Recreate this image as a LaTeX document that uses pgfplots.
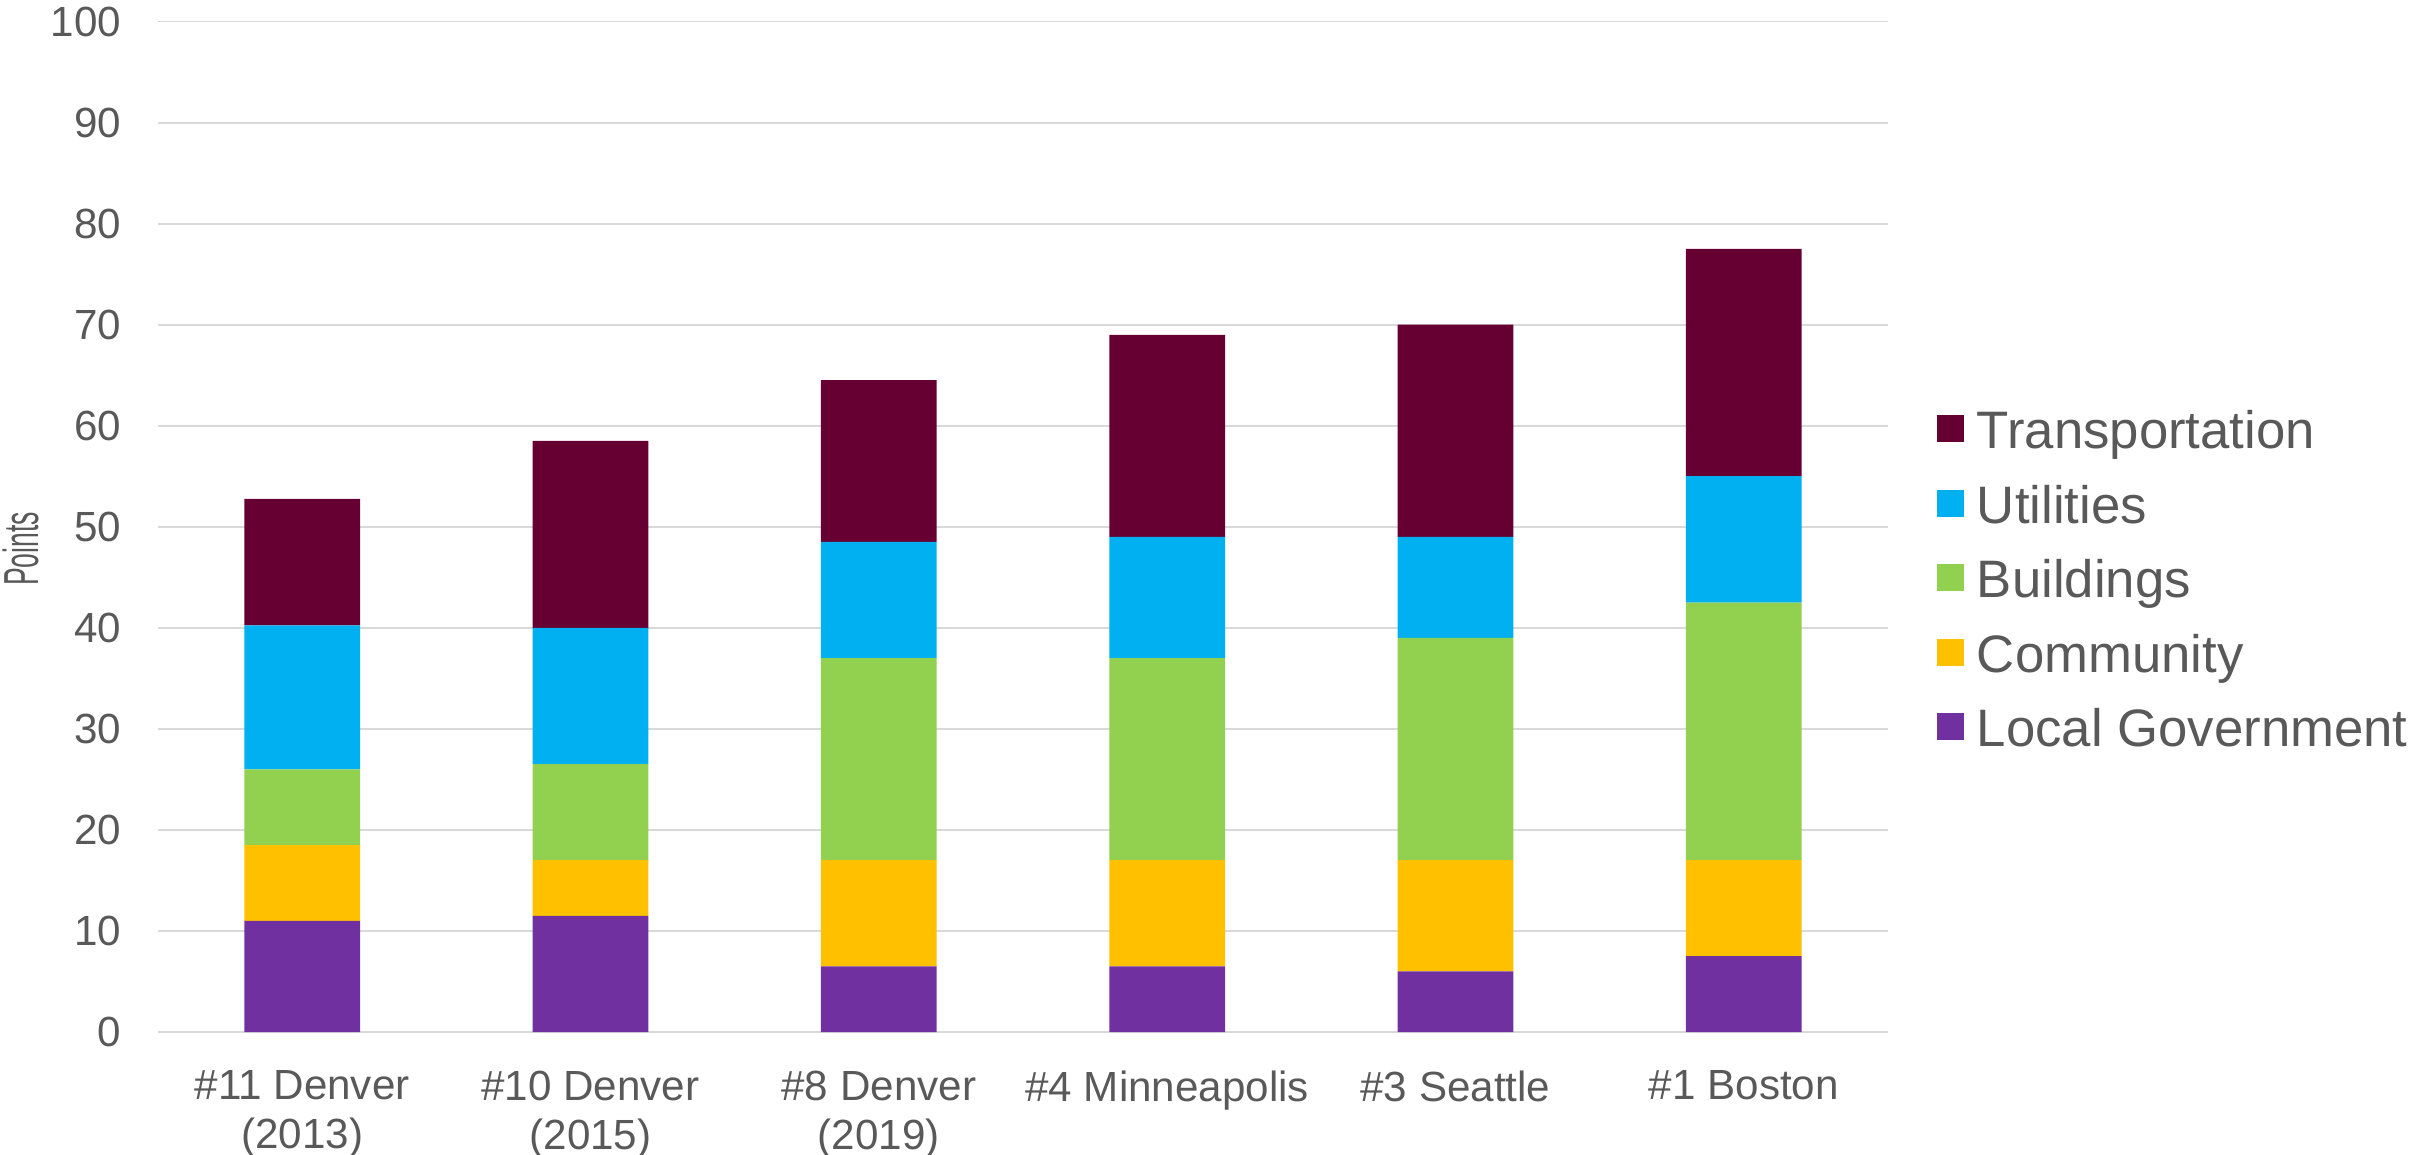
\documentclass[border=0pt]{standalone}
\usepackage{fontspec}
\setmainfont{Liberation Sans}
\usepackage{graphicx}
\usepackage{pgfplots}
\usepackage{pgfplotstable}
\pgfplotsset{compat=1.18}

\definecolor{cTrans}{HTML}{660033}
\definecolor{cUtil}{HTML}{00B0F0}
\definecolor{cBldg}{HTML}{92D050}
\definecolor{cComm}{HTML}{FFC000}
\definecolor{cGov}{HTML}{7030A0}
\definecolor{textgray}{HTML}{595959}
\definecolor{gridgray}{HTML}{D9D9D9}

% points per category, stacked from the bottom
\pgfplotstableread{
x lg comm bldg util trans
0 11   7.5  7.5  14.25 12.5
1 11.5 5.5  9.5  13.5  18.5
2 6.5  10.5 20   11.5  16
3 6.5  10.5 20   12    20
4 6    11   22   10    21
5 7.5  9.5  25.5 12.5  22.5
}\scores

\begin{document}
\begin{tikzpicture}
\useasboundingbox (0,0) rectangle (241.2mm,115.4mm);
\begin{axis}[
  at={(15.8mm,12.2mm)}, anchor=south west,
  scale only axis,
  width=173mm, height=101.05mm,
  ybar stacked,
  bar width=11.57mm,
  xmin=-0.5, xmax=5.5,
  ymin=0, ymax=100,
  xtick={0,...,5},
  xticklabels={{\#11 Denver\\(2013)},{\#10 Denver\\(2015)},{\#8 Denver\\(2019)},{\#4 Minneapolis},{\#3 Seattle},{\#1 Boston}},
  ytick={0,10,...,100},
  /pgf/number format/assume math mode=true,
  major tick length=0pt,
  axis line style={draw=none},
  ymajorgrids=true,
  major grid style={draw=gridgray, line width=0.55pt},
  tick label style={text=textgray, font=\fontsize{12}{13.9}\selectfont},
  xticklabel style={align=center, inner sep=0pt, anchor=north, yshift=-3.8mm},
  yticklabel style={inner sep=0pt, anchor=east, xshift=-3.6mm},
  ylabel={\scalebox{0.54}[1]{Points}},
  ylabel style={at={(axis description cs:-0.0795,0.478)}, anchor=center, text=textgray, font=\fontsize{14}{16}\selectfont},
  reverse legend,
  legend cell align=left,
  legend image code/.code={\fill[#1] (0mm,-0.65mm) rectangle (2.7mm,2.05mm);},
  legend style={draw=none, fill=none, inner sep=0pt, outer sep=0pt,
    at={(axis description cs:1.0283,0.615)}, anchor=north west,
    font=\fontsize{15}{18}\selectfont, text=textgray,
    column sep=1.3mm, row sep=2.45mm,
    nodes={inner sep=0pt, text height=3.8mm, text depth=1.2mm}},
]
\addplot[fill=cGov, draw=none] table[x=x, y=lg] {\scores};
\addlegendentry{Local Government}
\addplot[fill=cComm, draw=none] table[x=x, y=comm] {\scores};
\addlegendentry{Community}
\addplot[fill=cBldg, draw=none] table[x=x, y=bldg] {\scores};
\addlegendentry{Buildings}
\addplot[fill=cUtil, draw=none] table[x=x, y=util] {\scores};
\addlegendentry{Utilities}
\addplot[fill=cTrans, draw=none] table[x=x, y=trans] {\scores};
\addlegendentry{Transportation}
\end{axis}
\end{tikzpicture}
\end{document}
